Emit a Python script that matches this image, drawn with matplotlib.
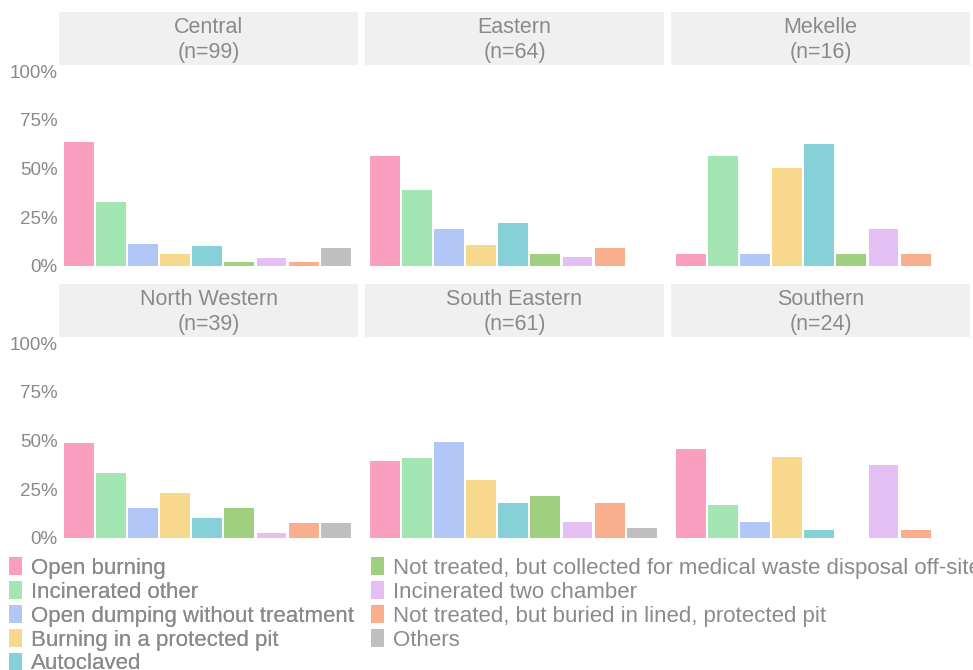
import matplotlib
matplotlib.use("Agg")
import matplotlib.pyplot as plt
from matplotlib.patches import Patch
import numpy as np

plt.rcParams['font.family'] = ['Liberation Sans', 'DejaVu Sans']

categories = [
    "Open burning",
    "Incinerated other",
    "Open dumping without treatment",
    "Burning in a protected pit",
    "Autoclaved",
    "Not treated, but collected for medical waste disposal off-site",
    "Incinerated two chamber",
    "Not treated, but buried in lined, protected pit",
    "Others",
]
colors = ["#FB9FC0", "#A3E6B4", "#B2C7F5", "#F8D88D", "#86D0D7",
          "#A0D07F", "#E3BFF3", "#F9AF8E", "#BFBFBF"]

regions = ["Central", "Eastern", "Mekelle", "North Western", "South Eastern", "Southern"]
n_sizes = [99, 64, 16, 39, 61, 24]

# percent of facilities per treatment method
central = [63.6, 32.8, 11.1, 6.1, 10.1, 2.0, 4.0, 2.0, 9.1]
eastern = [56.3, 39.1, 18.8, 10.9, 21.9, 6.3, 4.7, 9.4, 0]
mekelle = [6.3, 56.3, 6.3, 50.0, 62.5, 6.3, 18.8, 6.3, 0]
north_western = [48.7, 33.3, 15.4, 23.1, 10.3, 15.4, 2.6, 7.7, 7.7]
south_eastern = [39.3, 41.0, 49.2, 29.5, 18.0, 21.3, 8.2, 18.0, 4.9]
southern = [45.8, 16.7, 8.3, 41.7, 4.2, 0, 37.5, 4.2, 0]
values = [central, eastern, mekelle, north_western, south_eastern, southern]

W, H = 973, 670
fig = plt.figure(figsize=(W / 100, H / 100), dpi=100)

grey = "#8A8A8A"
panel_left = [59, 365, 671]
panel_w = 299
strip_top = [12, 284]
strip_h = 53
panel_h = 207

x = np.arange(len(categories))
for i, (reg, n, vals) in enumerate(zip(regions, n_sizes, values)):
    r, c = divmod(i, 3)
    x0 = panel_left[c]
    st = strip_top[r]
    # strip
    sax = fig.add_axes([x0 / W, 1 - (st + strip_h) / H, panel_w / W, strip_h / H])
    sax.set_facecolor("#F0F0F0")
    sax.set_xticks([]); sax.set_yticks([])
    for s in sax.spines.values():
        s.set_visible(False)
    sax.text(0.5, 0.47, f"{reg}\n(n={n})", ha="center", va="center",
             fontsize=15.5, color=grey, linespacing=1.22, transform=sax.transAxes)
    # panel
    ax = fig.add_axes([x0 / W, 1 - (st + strip_h + panel_h) / H, panel_w / W, panel_h / H])
    v = np.array(vals) / 100.0
    ax.bar(x, v, width=0.93, color=colors)
    ax.set_xlim(-0.62, -0.62 + panel_w / 32.1)
    ax.set_ylim(-0.031, 1.031)
    ax.set_xticks([])
    ax.set_yticks([0, 0.25, 0.5, 0.75, 1.0])
    if c == 0:
        ax.set_yticklabels(["0%", "25%", "50%", "75%", "100%"])
    else:
        ax.set_yticklabels([])
    ax.tick_params(axis="y", length=0, pad=1, labelsize=13.5, labelcolor=grey)
    for s in ax.spines.values():
        s.set_visible(False)

handles = [Patch(facecolor=col, edgecolor="none") for col in colors]
common = dict(frameon=False, fontsize=16.0, labelcolor=grey, handlelength=0.58,
              handleheight=0.9, handletextpad=0.42, labelspacing=0.09,
              borderpad=0, borderaxespad=0, loc="upper left")
leg1 = fig.legend(handles[:5], categories[:5], bbox_to_anchor=(9 / W, 1 - 557 / H), **common)
fig.add_artist(leg1)
fig.legend(handles[5:], categories[5:], bbox_to_anchor=(371 / W, 1 - 557 / H), **common)

fig.savefig("out.png", dpi=100)
